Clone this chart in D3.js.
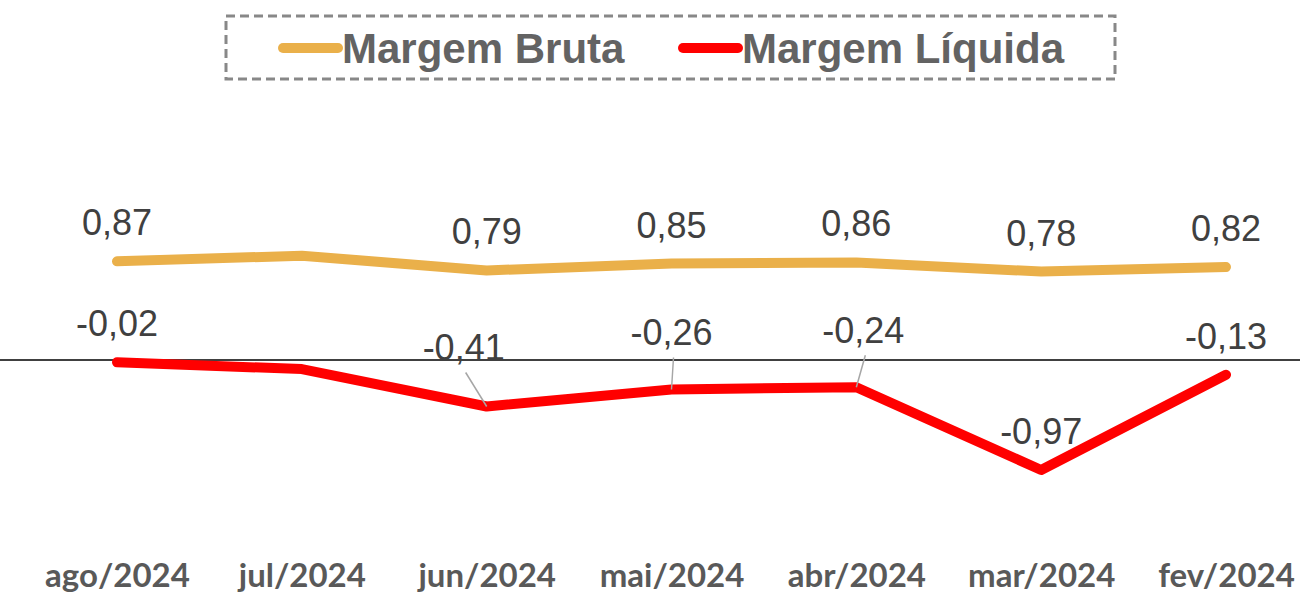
<!DOCTYPE html>
<html>
<head>
<meta charset="utf-8">
<script src="https://cdn.jsdelivr.net/npm/d3@7"></script>
<style>
  body { margin: 0; background: #fff; }
  svg { display: block; }
</style>
</head>
<body>
<div id="container"></div>
<script>
/* data */
const categories = ["ago/2024", "jul/2024", "jun/2024", "mai/2024", "abr/2024", "mar/2024", "fev/2024"];
const margemBruta = [0.87, 0.92, 0.79, 0.85, 0.86, 0.78, 0.82];
const margemLiquida = [-0.02, -0.08, -0.41, -0.26, -0.24, -0.97, -0.13];
const brutaLabels = ["0,87", null, "0,79", "0,85", "0,86", "0,78", "0,82"];
const liquidaLabels = ["-0,02", null, "-0,41", "-0,26", "-0,24", "-0,97", "-0,13"];
const seriesNames = ["Margem Bruta", "Margem Líquida"];

/* layout */
const width = 1300;
const height = 596;
const colors = ["#EAB04A", "#FF0000"];
// label offsets from the point (some labels have leader lines)
const liquidaOffsets = [[0, -26], null, [-23, -46], [0, -44], [7, -44], [0, -26], [0, -26]];

const svg = d3.select("#container")
  .append("svg")
  .attr("width", width)
  .attr("height", height);

/* scales */
const x = d3.scalePoint()
  .domain(categories)
  .range([117, 1226]);

const y = d3.scaleLinear()
  .domain([-1.5, 1.5])
  .range([530.1, 189.9]);

/* zero line */
svg.append("line")
  .attr("x1", 0).attr("x2", width)
  .attr("y1", y(0)).attr("y2", y(0))
  .attr("stroke", "#000")
  .attr("stroke-width", 1.5);

/* category axis */
const xAxis = svg.append("g")
  .attr("transform", "translate(0,587)")
  .call(d3.axisBottom(x).tickSize(0).tickPadding(0));
xAxis.select(".domain").remove();
xAxis.selectAll("text")
  .attr("dy", 0)
  .attr("fill", "#595959")
  .attr("font-family", "Lato, sans-serif")
  .attr("font-weight", "bold")
  .attr("font-size", "33px");

/* lines */
const line = d3.line()
  .x((d, i) => x(categories[i]))
  .y(d => y(d));

[margemBruta, margemLiquida].forEach((vals, k) => {
  svg.append("path")
    .datum(vals)
    .attr("d", line)
    .attr("fill", "none")
    .attr("stroke", colors[k])
    .attr("stroke-width", 10)
    .attr("stroke-linecap", "round")
    .attr("stroke-linejoin", "round");
});

/* leader lines for the shifted labels */
const leaders = liquidaOffsets.map((o, i) => ({o, i}))
  .filter(d => d.o && d.o[1] < -30);
svg.selectAll(".leader")
  .data(leaders)
  .join("line")
  .attr("class", "leader")
  .attr("x1", d => x(categories[d.i]) + d.o[0] + 2)
  .attr("y1", d => y(margemLiquida[d.i]) + d.o[1] + 12)
  .attr("x2", d => x(categories[d.i]))
  .attr("y2", d => y(margemLiquida[d.i]))
  .attr("stroke", "#A6A6A6")
  .attr("stroke-width", 1.5);

/* data labels */
function labelText(sel) {
  sel.attr("text-anchor", "middle")
    .attr("fill", "#404040")
    .attr("font-family", "'Liberation Sans', Arial, sans-serif")
    .attr("font-size", "36px");
}

svg.selectAll(".lbl-bruta")
  .data(brutaLabels.map((t, i) => ({t, i})).filter(d => d.t))
  .join("text")
  .attr("class", "lbl-bruta")
  .attr("x", d => x(categories[d.i]))
  .attr("y", d => y(margemBruta[d.i]) - 26)
  .text(d => d.t)
  .call(labelText);

svg.selectAll(".lbl-liq")
  .data(liquidaLabels.map((t, i) => ({t, i})).filter(d => d.t))
  .join("text")
  .attr("class", "lbl-liq")
  .attr("x", d => x(categories[d.i]) + liquidaOffsets[d.i][0])
  .attr("y", d => y(margemLiquida[d.i]) + liquidaOffsets[d.i][1])
  .text(d => d.t)
  .call(labelText);

/* legend */
const legend = svg.append("g");
legend.append("rect")
  .attr("x", 226).attr("y", 16)
  .attr("width", 889).attr("height", 63)
  .attr("fill", "none")
  .attr("stroke", "#888")
  .attr("stroke-width", 3)
  .attr("stroke-dasharray", "9,5");

const legendX = [283, 683];
seriesNames.forEach((name, k) => {
  legend.append("line")
    .attr("x1", legendX[k]).attr("x2", legendX[k] + 55)
    .attr("y1", 48).attr("y2", 48)
    .attr("stroke", colors[k])
    .attr("stroke-width", 10)
    .attr("stroke-linecap", "round");
  legend.append("text")
    .attr("x", legendX[k] + 59)
    .attr("y", 63)
    .attr("fill", "#636363")
    .attr("font-family", "'Liberation Sans', Arial, sans-serif")
    .attr("font-weight", "bold")
    .attr("font-size", "42px")
    .text(name);
});
</script>
</body>
</html>
